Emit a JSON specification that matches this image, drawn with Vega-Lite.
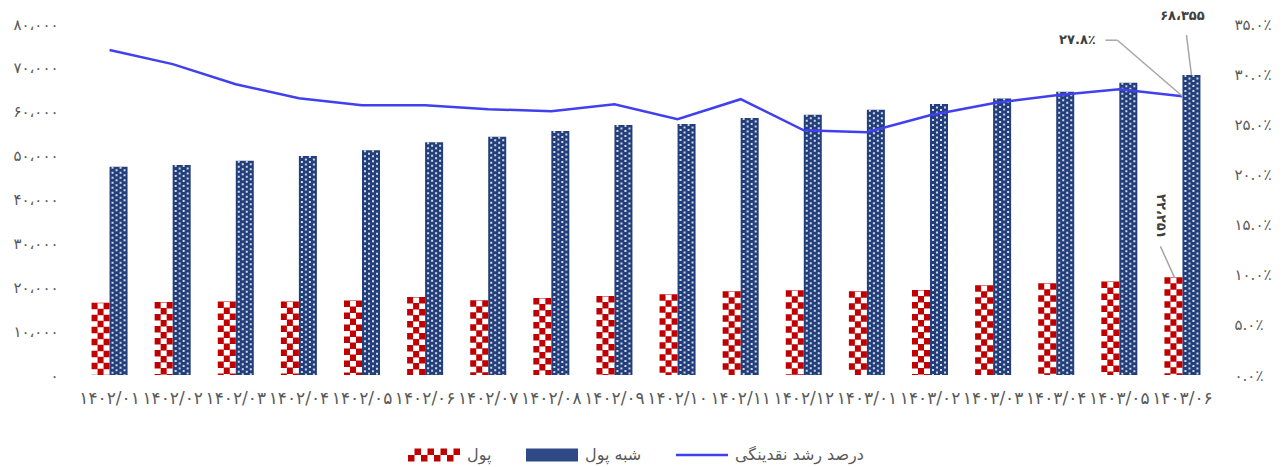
{
  "$schema": "https://vega.github.io/schema/vega-lite/v6.json",
  "width": 1136,
  "height": 351,
  "autosize": {"type": "none"},
  "padding": {"left": 78, "top": 24, "right": 70, "bottom": 92},
  "config": {
    "view": {"stroke": null},
    "font": "DejaVu Sans",
    "axis": {"grid": false, "domain": false, "ticks": false, "labelColor": "#595959", "labelFont": "DejaVu Sans", "title": null}
  },
  "data": {"values": [
    {"month": "۱۴۰۲/۰۱", "series": "پول", "value": 16470},
    {"month": "۱۴۰۲/۰۲", "series": "پول", "value": 16610},
    {"month": "۱۴۰۲/۰۳", "series": "پول", "value": 16770},
    {"month": "۱۴۰۲/۰۴", "series": "پول", "value": 16770},
    {"month": "۱۴۰۲/۰۵", "series": "پول", "value": 17000},
    {"month": "۱۴۰۲/۰۶", "series": "پول", "value": 17760},
    {"month": "۱۴۰۲/۰۷", "series": "پول", "value": 17050},
    {"month": "۱۴۰۲/۰۸", "series": "پول", "value": 17530},
    {"month": "۱۴۰۲/۰۹", "series": "پول", "value": 17980},
    {"month": "۱۴۰۲/۱۰", "series": "پول", "value": 18380},
    {"month": "۱۴۰۲/۱۱", "series": "پول", "value": 19070},
    {"month": "۱۴۰۲/۱۲", "series": "پول", "value": 19290},
    {"month": "۱۴۰۳/۰۱", "series": "پول", "value": 19070},
    {"month": "۱۴۰۳/۰۲", "series": "پول", "value": 19360},
    {"month": "۱۴۰۳/۰۳", "series": "پول", "value": 20440},
    {"month": "۱۴۰۳/۰۴", "series": "پول", "value": 20910},
    {"month": "۱۴۰۳/۰۵", "series": "پول", "value": 21290},
    {"month": "۱۴۰۳/۰۶", "series": "پول", "value": 22251},
    {"month": "۱۴۰۲/۰۱", "series": "شبه پول", "value": 47480},
    {"month": "۱۴۰۲/۰۲", "series": "شبه پول", "value": 47850},
    {"month": "۱۴۰۲/۰۳", "series": "شبه پول", "value": 48860},
    {"month": "۱۴۰۲/۰۴", "series": "شبه پول", "value": 49920},
    {"month": "۱۴۰۲/۰۵", "series": "شبه پول", "value": 51230},
    {"month": "۱۴۰۲/۰۶", "series": "شبه پول", "value": 53060},
    {"month": "۱۴۰۲/۰۷", "series": "شبه پول", "value": 54280},
    {"month": "۱۴۰۲/۰۸", "series": "شبه پول", "value": 55590},
    {"month": "۱۴۰۲/۰۹", "series": "شبه پول", "value": 56970},
    {"month": "۱۴۰۲/۱۰", "series": "شبه پول", "value": 57200},
    {"month": "۱۴۰۲/۱۱", "series": "شبه پول", "value": 58570},
    {"month": "۱۴۰۲/۱۲", "series": "شبه پول", "value": 59340},
    {"month": "۱۴۰۳/۰۱", "series": "شبه پول", "value": 60480},
    {"month": "۱۴۰۳/۰۲", "series": "شبه پول", "value": 61790},
    {"month": "۱۴۰۳/۰۳", "series": "شبه پول", "value": 63010},
    {"month": "۱۴۰۳/۰۴", "series": "شبه پول", "value": 64550},
    {"month": "۱۴۰۳/۰۵", "series": "شبه پول", "value": 66620},
    {"month": "۱۴۰۳/۰۶", "series": "شبه پول", "value": 68355},
    {"month": "۱۴۰۲/۰۱", "series": "درصد رشد نقدینگی", "value": 32.4},
    {"month": "۱۴۰۲/۰۲", "series": "درصد رشد نقدینگی", "value": 31.0},
    {"month": "۱۴۰۲/۰۳", "series": "درصد رشد نقدینگی", "value": 29.0},
    {"month": "۱۴۰۲/۰۴", "series": "درصد رشد نقدینگی", "value": 27.6},
    {"month": "۱۴۰۲/۰۵", "series": "درصد رشد نقدینگی", "value": 26.9},
    {"month": "۱۴۰۲/۰۶", "series": "درصد رشد نقدینگی", "value": 26.9},
    {"month": "۱۴۰۲/۰۷", "series": "درصد رشد نقدینگی", "value": 26.5},
    {"month": "۱۴۰۲/۰۸", "series": "درصد رشد نقدینگی", "value": 26.3},
    {"month": "۱۴۰۲/۰۹", "series": "درصد رشد نقدینگی", "value": 27.0},
    {"month": "۱۴۰۲/۱۰", "series": "درصد رشد نقدینگی", "value": 25.5},
    {"month": "۱۴۰۲/۱۱", "series": "درصد رشد نقدینگی", "value": 27.5},
    {"month": "۱۴۰۲/۱۲", "series": "درصد رشد نقدینگی", "value": 24.4},
    {"month": "۱۴۰۳/۰۱", "series": "درصد رشد نقدینگی", "value": 24.2},
    {"month": "۱۴۰۳/۰۲", "series": "درصد رشد نقدینگی", "value": 25.9},
    {"month": "۱۴۰۳/۰۳", "series": "درصد رشد نقدینگی", "value": 27.1},
    {"month": "۱۴۰۳/۰۴", "series": "درصد رشد نقدینگی", "value": 27.9},
    {"month": "۱۴۰۳/۰۵", "series": "درصد رشد نقدینگی", "value": 28.5},
    {"month": "۱۴۰۳/۰۶", "series": "درصد رشد نقدینگی", "value": 27.8}
  ]},
  "encoding": {
    "x": {
      "field": "month", "type": "nominal",
      "scale": {"type": "band", "paddingInner": 0, "paddingOuter": 0,
        "domain": ["۱۴۰۲/۰۱","۱۴۰۲/۰۲","۱۴۰۲/۰۳","۱۴۰۲/۰۴","۱۴۰۲/۰۵","۱۴۰۲/۰۶","۱۴۰۲/۰۷","۱۴۰۲/۰۸","۱۴۰۲/۰۹","۱۴۰۲/۱۰","۱۴۰۲/۱۱","۱۴۰۲/۱۲","۱۴۰۳/۰۱","۱۴۰۳/۰۲","۱۴۰۳/۰۳","۱۴۰۳/۰۴","۱۴۰۳/۰۵","۱۴۰۳/۰۶"]},
      "axis": {"labelAngle": 0, "labelFontSize": 17, "labelPadding": 15, "labelOverlap": false, "labelBound": false, "labelFlush": false}
    }
  },
  "layer": [
    {
      "encoding": {
        "y": {"field": "value", "type": "quantitative", "scale": {"domain": [0, 80000]},
          "axis": {"orient": "left", "values": [0, 10000, 20000, 30000, 40000, 50000, 60000, 70000, 80000], "labelFontSize": 15, "labelPadding": 20,
            "labelExpr": "replace(replace(replace(replace(replace(replace(replace(replace(replace(replace(replace(format(datum.value, ','), regexp(',', 'g'), '،'), regexp('0', 'g'), '۰'), regexp('1', 'g'), '۱'), regexp('2', 'g'), '۲'), regexp('3', 'g'), '۳'), regexp('4', 'g'), '۴'), regexp('5', 'g'), '۵'), regexp('6', 'g'), '۶'), regexp('7', 'g'), '۷'), regexp('8', 'g'), '۸'), regexp('9', 'g'), '۹')"}}
      },
      "layer": [
        {
          "transform": [{"filter": {"field": "series", "equal": "شبه پول"}}],
          "mark": {"type": "bar", "width": 18, "xOffset": 9, "color": "#223f7c"}
        },
        {
          "transform": [{"filter": {"field": "series", "equal": "شبه پول"}}],
          "mark": {"type": "rule", "xOffset": 3, "color": "#ffffff", "strokeWidth": 2, "strokeDash": [2, 3], "strokeDashOffset": 0, "opacity": 0.8},
          "encoding": {"y2": {"datum": 0}}
        },
        {
          "transform": [{"filter": {"field": "series", "equal": "شبه پول"}}],
          "mark": {"type": "rule", "xOffset": 7, "color": "#ffffff", "strokeWidth": 2, "strokeDash": [2, 3], "strokeDashOffset": 2.5, "opacity": 0.8},
          "encoding": {"y2": {"datum": 0}}
        },
        {
          "transform": [{"filter": {"field": "series", "equal": "شبه پول"}}],
          "mark": {"type": "rule", "xOffset": 11, "color": "#ffffff", "strokeWidth": 2, "strokeDash": [2, 3], "strokeDashOffset": 0, "opacity": 0.8},
          "encoding": {"y2": {"datum": 0}}
        },
        {
          "transform": [{"filter": {"field": "series", "equal": "شبه پول"}}],
          "mark": {"type": "rule", "xOffset": 15, "color": "#ffffff", "strokeWidth": 2, "strokeDash": [2, 3], "strokeDashOffset": 2.5, "opacity": 0.8},
          "encoding": {"y2": {"datum": 0}}
        },
        {
          "transform": [{"filter": {"field": "series", "equal": "پول"}}],
          "mark": {"type": "rule", "xOffset": -15, "color": "#C00000", "strokeWidth": 6, "strokeDash": [6.5, 5.5], "strokeDashOffset": 0},
          "encoding": {"y2": {"datum": 0}}
        },
        {
          "transform": [{"filter": {"field": "series", "equal": "پول"}}],
          "mark": {"type": "rule", "xOffset": -9, "color": "#C00000", "strokeWidth": 6, "strokeDash": [6.5, 5.5], "strokeDashOffset": 6},
          "encoding": {"y2": {"datum": 0}}
        },
        {
          "transform": [{"filter": {"field": "series", "equal": "پول"}}],
          "mark": {"type": "rule", "xOffset": -3, "color": "#C00000", "strokeWidth": 6, "strokeDash": [6.5, 5.5], "strokeDashOffset": 0},
          "encoding": {"y2": {"datum": 0}}
        },
        {
          "transform": [{"filter": {"and": [{"field": "series", "equal": "شبه پول"}, {"field": "month", "equal": "۱۴۰۳/۰۶"}]}}],
          "mark": {"type": "text", "text": "۶۸،۳۵۵", "xOffset": 0, "yOffset": -59, "fontWeight": "bold", "fontSize": 13, "color": "#404040", "align": "center", "baseline": "middle"}
        },
        {
          "transform": [{"filter": {"and": [{"field": "series", "equal": "شبه پول"}, {"field": "month", "equal": "۱۴۰۳/۰۶"}]}}],
          "mark": {"type": "rule", "xOffset": 4, "yOffset": -40, "x2Offset": 9, "y2Offset": 0, "color": "#A6A6A6", "strokeWidth": 1.5},
          "encoding": {"x2": {"field": "month"}, "y2": {"field": "value"}}
        },
        {
          "transform": [{"filter": {"and": [{"field": "series", "equal": "پول"}, {"field": "month", "equal": "۱۴۰۳/۰۶"}]}}],
          "mark": {"type": "text", "text": "۲۲،۲۵۱", "angle": 90, "xOffset": -21, "yOffset": -61, "fontWeight": "bold", "fontSize": 13, "color": "#404040", "align": "center", "baseline": "middle"}
        },
        {
          "transform": [{"filter": {"and": [{"field": "series", "equal": "پول"}, {"field": "month", "equal": "۱۴۰۳/۰۶"}]}}],
          "mark": {"type": "rule", "xOffset": -22, "yOffset": -31, "x2Offset": -8, "y2Offset": 0, "color": "#A6A6A6", "strokeWidth": 1.5},
          "encoding": {"x2": {"field": "month"}, "y2": {"field": "value"}}
        },
        {
          "transform": [{"filter": {"field": "series", "equal": "__none__"}}],
          "mark": {"type": "point", "filled": true, "opacity": 1},
          "encoding": {
            "color": {"field": "series", "type": "nominal",
              "scale": {"domain": ["پول", "شبه پول", "درصد رشد نقدینگی"], "range": ["#C00000", "#2e4a86", "#4040EE"]},
              "legend": {"title": null, "orient": "none", "legendX": 330, "legendY": 405, "direction": "horizontal", "symbolSize": 2704, "labelFontSize": 16, "labelColor": "#595959", "labelFont": "DejaVu Sans", "labelOffset": 7, "columnPadding": 34, "symbolStrokeWidth": 0, "symbolOpacity": 1}},
            "shape": {"field": "series", "type": "nominal",
              "scale": {"domain": ["پول", "شبه پول", "درصد رشد نقدینگی"], "range": [
                "M-0.75,-0.25H-0.5V0H-0.75Z M-0.25,-0.25H0V0H-0.25Z M0.25,-0.25H0.5V0H0.25Z M0.75,-0.25H1V0H0.75Z M-1,0H-0.75V0.25H-1Z M-0.5,0H-0.25V0.25H-0.5Z M0,0H0.25V0.25H0Z M0.5,0H0.75V0.25H0.5Z",
                "M-1,-0.25H1V0.25H-1Z",
                "M-1,-0.05H1V0.05H-1Z"]},
              "legend": {"title": null, "orient": "none", "legendX": 330, "legendY": 405, "direction": "horizontal", "symbolSize": 2704, "labelFontSize": 16, "labelColor": "#595959", "labelFont": "DejaVu Sans", "labelOffset": 7, "columnPadding": 34, "symbolStrokeWidth": 0, "symbolOpacity": 1}}
          }
        }
      ]
    },
    {
      "encoding": {
        "y": {"field": "value", "type": "quantitative", "scale": {"domain": [0, 35]},
          "axis": {"orient": "right", "values": [0, 5, 10, 15, 20, 25, 30, 35], "labelFontSize": 15, "labelPadding": 20,
            "labelExpr": "replace(replace(replace(replace(replace(replace(replace(replace(replace(replace(format(datum.value, '.1f') + '٪', regexp('0', 'g'), '۰'), regexp('1', 'g'), '۱'), regexp('2', 'g'), '۲'), regexp('3', 'g'), '۳'), regexp('4', 'g'), '۴'), regexp('5', 'g'), '۵'), regexp('6', 'g'), '۶'), regexp('7', 'g'), '۷'), regexp('8', 'g'), '۸'), regexp('9', 'g'), '۹')"}}
      },
      "layer": [
        {
          "transform": [{"filter": {"field": "series", "equal": "درصد رشد نقدینگی"}}],
          "mark": {"type": "line", "color": "#4040EE", "strokeWidth": 2.5}
        },
        {
          "transform": [{"filter": {"and": [{"field": "series", "equal": "درصد رشد نقدینگی"}, {"field": "month", "equal": "۱۴۰۳/۰۶"}]}}],
          "mark": {"type": "text", "text": "۲۷.۸٪", "xOffset": -105, "yOffset": -56, "fontWeight": "bold", "fontSize": 13, "color": "#404040", "align": "center", "baseline": "middle"}
        },
        {
          "transform": [{"filter": {"and": [{"field": "series", "equal": "درصد رشد نقدینگی"}, {"field": "month", "equal": "۱۴۰۳/۰۶"}]}}],
          "mark": {"type": "rule", "xOffset": -77, "yOffset": -56, "x2Offset": -65, "y2Offset": -56, "color": "#A6A6A6", "strokeWidth": 1.5},
          "encoding": {"x2": {"field": "month"}, "y2": {"field": "value"}}
        },
        {
          "transform": [{"filter": {"and": [{"field": "series", "equal": "درصد رشد نقدینگی"}, {"field": "month", "equal": "۱۴۰۳/۰۶"}]}}],
          "mark": {"type": "rule", "xOffset": -65, "yOffset": -56, "x2Offset": 0, "y2Offset": 0, "color": "#A6A6A6", "strokeWidth": 1.5},
          "encoding": {"x2": {"field": "month"}, "y2": {"field": "value"}}
        }
      ]
    }
  ],
  "resolve": {"scale": {"y": "independent"}}
}
